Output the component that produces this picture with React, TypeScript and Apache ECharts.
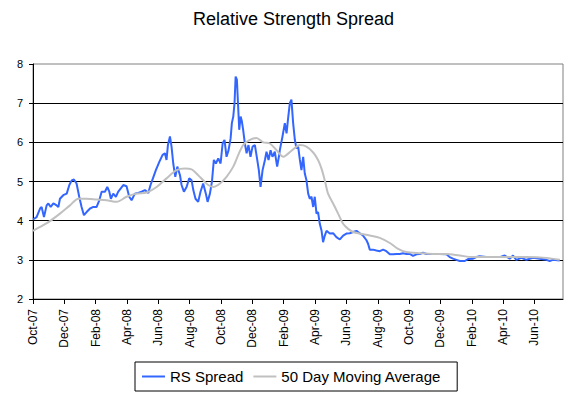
import React, { useEffect, useRef } from "react";
import * as echarts from "echarts";

// x values are months elapsed since 1 Oct 2007
const monthLabels = [
  "Oct-07", "Dec-07", "Feb-08", "Apr-08", "Jun-08", "Aug-08", "Oct-08", "Dec-08",
  "Feb-09", "Apr-09", "Jun-09", "Aug-09", "Oct-09", "Dec-09", "Feb-10", "Apr-10", "Jun-10",
];

const rsMonths = [
  0.0, 0.23, 0.45, 0.55, 0.7, 0.87, 0.98, 1.13, 1.3, 1.51, 1.62, 1.72, 1.93, 2.15, 2.32, 2.47, 2.61, 2.78,
  2.95, 3.1, 3.25, 3.42, 3.64, 3.85, 4.06, 4.23, 4.38, 4.59, 4.74, 4.87, 4.97, 5.12, 5.29, 5.44, 5.59,
  5.76, 5.97, 6.14, 6.29, 6.5, 6.72, 6.93, 7.14, 7.36, 7.5, 7.67, 7.84, 8.06, 8.27, 8.42, 8.52, 8.61,
  8.74, 8.84, 8.95, 9.08, 9.21, 9.38, 9.48, 9.63, 9.8, 9.97, 10.12, 10.23, 10.37, 10.54, 10.69, 10.86,
  11.03, 11.14, 11.29, 11.42, 11.54, 11.67, 11.82, 11.97, 12.1, 12.22, 12.35, 12.48, 12.61, 12.69,
  12.78, 12.86, 12.93, 13.01, 13.1, 13.16, 13.25, 13.33, 13.41, 13.52, 13.63, 13.75, 13.88, 14.01,
  14.16, 14.31, 14.41, 14.52, 14.65, 14.8, 14.9, 15.03, 15.16, 15.28, 15.43, 15.58, 15.71, 15.75,
  15.92, 16.07, 16.18, 16.28, 16.39, 16.49, 16.6, 16.71, 16.81, 16.92, 17.03, 17.13, 17.24, 17.34,
  17.45, 17.56, 17.66, 17.77, 17.88, 17.98, 18.09, 18.19, 18.3, 18.41, 18.51, 18.62, 18.73, 18.94,
  19.15, 19.36, 19.58, 19.79, 20.0, 20.21, 20.43, 20.64, 20.85, 21.06, 21.28, 21.38, 21.49, 21.7,
  21.91, 22.13, 22.34, 22.55, 22.77, 22.98, 23.19, 23.4, 23.62, 23.83, 24.04, 24.25, 24.47, 24.68,
  24.89, 25.1, 25.53, 25.95, 26.38, 26.59, 26.8, 27.02, 27.23, 27.55, 27.76, 28.08, 28.29, 28.5,
  28.93, 29.36, 29.78, 30.1, 30.42, 30.63, 30.84, 31.16, 31.48, 31.91, 32.33, 32.76, 32.97, 33.18, 33.61,
];

const rsValues = [
  4.03, 4.09, 4.31, 4.35, 4.09, 4.39, 4.44, 4.35, 4.44, 4.39, 4.35, 4.56, 4.65, 4.69, 4.91, 5.03, 5.05, 4.95,
  4.61, 4.35, 4.14, 4.22, 4.31, 4.35, 4.35, 4.52, 4.74, 4.74, 4.86, 4.74, 4.56, 4.69, 4.61, 4.74, 4.82,
  4.91, 4.88, 4.61, 4.52, 4.69, 4.71, 4.74, 4.78, 4.71, 4.91, 5.1, 5.29, 5.5, 5.68, 5.72, 5.55, 5.93,
  6.15, 5.89, 5.46, 5.12, 5.38, 5.16, 4.91, 4.74, 4.86, 5.08, 5.03, 4.78, 4.56, 4.48, 4.74, 4.95,
  4.69, 4.48, 4.69, 5.0, 5.55, 5.46, 5.59, 5.46, 5.97, 6.06, 5.63, 5.8, 6.1, 6.49,
  6.66, 7.0, 7.68, 7.6, 6.83, 6.32, 6.66, 6.53, 6.32, 5.97, 5.72, 5.93, 5.63, 5.89,
  5.93, 5.55, 5.29, 4.86, 5.29, 5.55, 5.76, 5.55, 5.8, 5.63, 5.76, 5.38, 5.68, 5.8,
  6.15, 6.49, 6.23, 6.62, 7.0, 7.09, 6.49, 6.06, 5.85, 5.89, 5.55, 5.29, 5.63, 5.21,
  5.03, 4.69, 4.56, 4.61, 4.35, 4.61, 4.18, 4.22, 3.92, 3.75, 3.45, 3.62, 3.74, 3.67,
  3.68, 3.58, 3.52, 3.62, 3.67, 3.68, 3.71, 3.74, 3.68, 3.62, 3.5, 3.41, 3.26, 3.26,
  3.24, 3.22, 3.26, 3.22, 3.14, 3.14, 3.15, 3.15, 3.17, 3.15, 3.15, 3.1, 3.14, 3.15,
  3.18, 3.15, 3.15, 3.15, 3.14, 3.07, 3.03, 3.0, 2.97, 2.97, 3.02, 3.03, 3.07, 3.09,
  3.07, 3.07, 3.07, 3.11, 3.03, 3.11, 3.0, 3.05, 3.0, 3.05, 3.03, 3.0, 2.97, 3.0, 2.98,
];

const maMonths = [
  0.0, 0.45, 1.08, 1.72, 2.36, 2.89, 3.42, 4.06, 4.7, 5.34, 5.97, 6.61, 7.25, 7.89, 8.52, 9.16, 9.69,
  10.12, 10.54, 10.86, 11.18, 11.5, 11.93, 12.35, 12.78, 13.1, 13.41, 13.84, 14.26, 14.69, 15.12,
  15.54, 15.97, 16.18, 16.6, 17.03, 17.45, 17.88, 18.19, 18.41, 18.62, 18.83, 19.15, 19.47, 19.79,
  20.11, 20.43, 20.85, 21.49, 22.13, 22.77, 23.3, 23.83, 24.68, 25.53, 26.38, 27.23, 28.08, 28.93,
  30.21, 31.48, 32.76, 33.61,
];

const maValues = [
  3.74, 3.84, 3.99, 4.18, 4.39, 4.56, 4.56, 4.54, 4.52, 4.48, 4.61, 4.69, 4.72, 4.86, 5.08, 5.29, 5.33,
  5.31, 5.16, 5.03, 4.91, 4.86, 4.95, 5.12, 5.38, 5.68, 5.93, 6.06, 6.11, 6.0, 5.97,
  5.8, 5.63, 5.68, 5.82, 5.93, 5.89, 5.74, 5.55, 5.33, 5.03, 4.69, 4.44, 4.18, 3.92,
  3.79, 3.71, 3.67, 3.62, 3.56, 3.43, 3.28, 3.2, 3.17, 3.15, 3.15, 3.11, 3.07, 3.07,
  3.07, 3.07, 3.05, 3.0,
];

const FONT = "'Liberation Sans', Arial, sans-serif";

export default function App() {
  const ref = useRef<HTMLDivElement>(null);

  useEffect(() => {
    if (!ref.current) return;
    const chart = echarts.init(ref.current, null, { renderer: "svg" });
    const rsData = rsMonths.map((m, i) => [m, rsValues[i]]);
    const maData = maMonths.map((m, i) => [m, maValues[i]]);

    chart.setOption({
      animation: false,
      backgroundColor: "#ffffff",
      textStyle: { fontFamily: FONT },
      title: {
        text: "Relative Strength Spread",
        left: 188,
        top: 5,
        textStyle: { fontFamily: FONT, fontSize: 18, fontWeight: "normal", color: "#000" },
      },
      legend: {
        left: 135,
        top: 362,
        padding: [6, 16, 6, 7],
        itemWidth: 23,
        itemHeight: 2,
        itemGap: 10,
        icon: "rect",
        borderColor: "#000",
        borderWidth: 1,
        textStyle: { fontFamily: FONT, fontSize: 15, color: "#000", lineHeight: 17 },
        data: ["RS Spread", "50 Day Moving Average"],
      },
      grid: {
        left: 33,
        right: 14,
        top: 64,
        bottom: 98,
        show: true,
        borderColor: "#808080",
        borderWidth: 1,
        backgroundColor: "#fff",
      },
      xAxis: {
        type: "value",
        min: 0,
        max: 33.82,
        interval: 2,
        axisLine: { show: true, lineStyle: { color: "#000", width: 1 } },
        axisTick: { show: true, length: 5, lineStyle: { color: "#000" } },
        splitLine: { show: false },
        axisLabel: {
          rotate: 90,
          margin: 10,
          fontFamily: FONT,
          fontSize: 12,
          color: "#000",
          showMaxLabel: false,
          formatter: (v: number) => {
            const idx = Math.round(v / 2);
            return Math.abs(v - idx * 2) < 1e-6 && monthLabels[idx] ? monthLabels[idx] : "";
          },
        },
      },
      yAxis: {
        type: "value",
        min: 2,
        max: 8,
        interval: 1,
        axisLine: { show: true, lineStyle: { color: "#000", width: 1 } },
        axisTick: { show: true, length: 4, lineStyle: { color: "#000" } },
        splitLine: { show: true, showMaxLine: false, lineStyle: { color: "#000", width: 1 } },
        axisLabel: { fontFamily: FONT, fontSize: 11, color: "#000", margin: 10 },
      },
      series: [
        {
          name: "RS Spread",
          type: "line",
          data: rsData,
          symbol: "none",
          lineStyle: { color: "#3366ff", width: 2 },
          itemStyle: { color: "#3366ff" },
        },
        {
          name: "50 Day Moving Average",
          type: "line",
          data: maData,
          symbol: "none",
          smooth: 0.3,
          lineStyle: { color: "#c0c0c0", width: 2 },
          itemStyle: { color: "#c0c0c0" },
        },
      ],
    });

    return () => chart.dispose();
  }, []);

  return <div ref={ref} style={{ width: 577, height: 397, position: "absolute", left: 0, top: 0 }} />;
}
